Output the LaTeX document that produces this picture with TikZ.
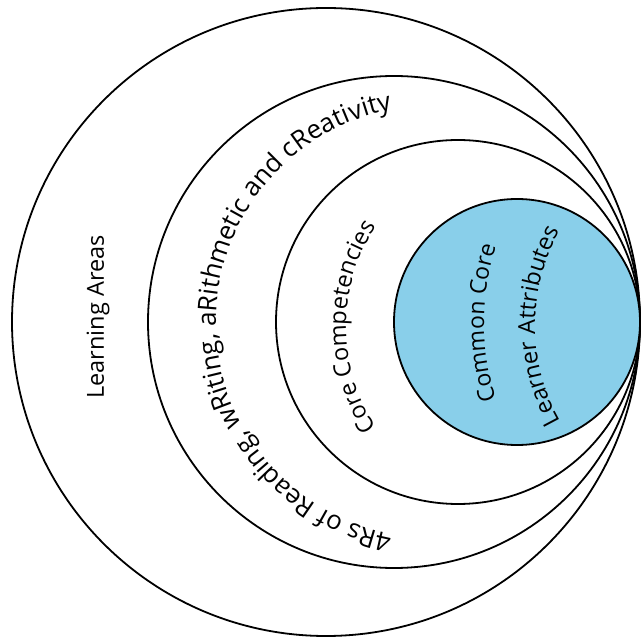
\documentclass[tikz,border=0pt]{standalone}
\usepackage{fontspec}
\newfontfamily\labelfont{Open Sans}
\usetikzlibrary{decorations.text}
\definecolor{coreblue}{RGB}{137,207,234}
\tikzset{
  ring/.style={draw=black, line width=1.8pt},
  curvedlabel/.style 2 args={decorate, decoration={text along path, text align=center, text={|\labelfont\fontsize{#1}{#1}\selectfont|#2}}}
}
\begin{document}
\begin{tikzpicture}[x=1pt,y=1pt]
\useasboundingbox (0,0) rectangle (642,643);
\fill[white] (0,0) rectangle (642,643);
% rings, all tangent at the right
\draw[ring] (326,321) circle[radius=314];
\draw[ring] (394,321) circle[radius=246];
\draw[ring] (458,321) circle[radius=182];
\draw[ring, fill=coreblue] (517,321) circle[radius=123];
% labels
\node[rotate=90, font=\labelfont\fontsize{23.5}{28}\selectfont] (la) at (98,326) {Learning Areas};
\path[curvedlabel={26}{4Rs of Reading, wRiting, aRithmetic and cReativity}]
  (432,321) ++(265:216) arc[start angle=265, end angle=95, radius=216];
\path[curvedlabel={23.5}{Core Competencies}]
  (527,316) ++(225:181) arc[start angle=225, end angle=135, radius=181];
\path[curvedlabel={23}{Common Core}]
  (730,320) ++(205:246) arc[start angle=205, end angle=155, radius=246];
\path[curvedlabel={23.5}{Learner Attributes}]
  (728,317) ++(220:193) arc[start angle=220, end angle=140, radius=193];
\end{tikzpicture}
\end{document}
